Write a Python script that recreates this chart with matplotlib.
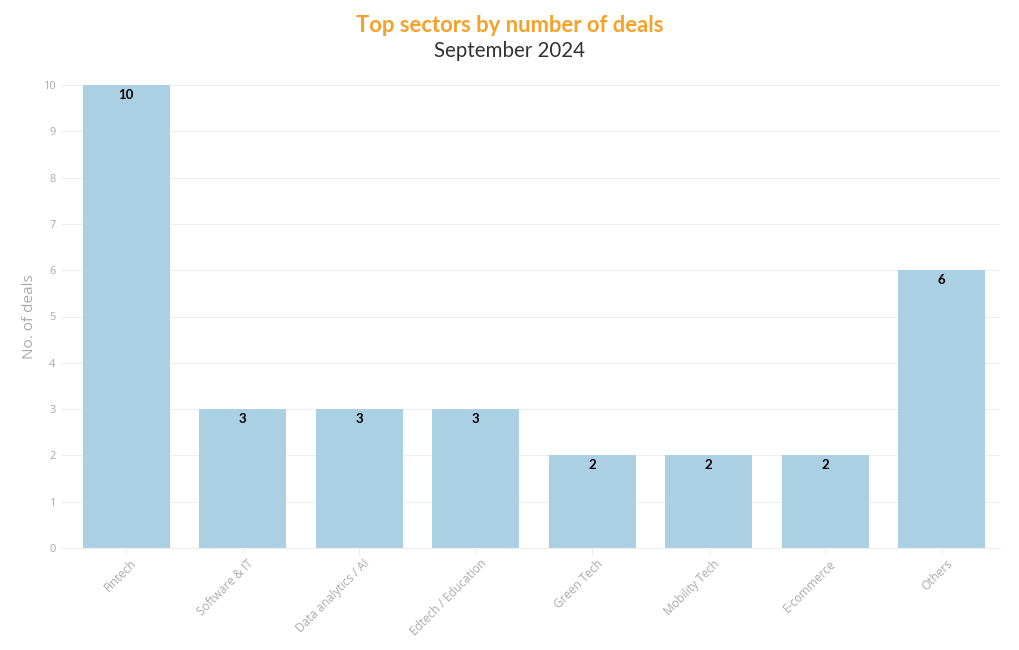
import matplotlib.pyplot as plt
import matplotlib.transforms as mtransforms
import numpy as np

sectors = ["Fintech", "Software & IT", "Data analytics / AI", "Edtech / Education",
           "Green Tech", "Mobility Tech", "E-commerce", "Others"]
deals = [10, 3, 3, 3, 2, 2, 2, 6]
y_ticks = list(range(0, 11))

plt.rcParams['font.family'] = ['Open Sans', 'DejaVu Sans']

fig = plt.figure(figsize=(10.2, 6.5), dpi=100)
ax = fig.add_axes([68 / 1020, 1 - 548 / 650, 932 / 1020, 463 / 650])

x = np.arange(len(sectors))
ax.bar(x, deals, width=0.75, color='#abd0e3', zorder=2)

# value labels just inside the top of each bar
for xi, v in zip(x, deals):
    ax.text(xi, v - 0.08, str(v), ha='center', va='top', fontsize=9.5,
            fontweight='bold', color='black', family=['Lato', 'DejaVu Sans'], zorder=3)

ax.set_xlim(-0.5, len(sectors) - 0.5)
ax.set_ylim(0, 10)
ax.set_yticks(y_ticks)
ax.set_xticks(x)
ax.set_xticklabels(sectors, rotation=45, ha='right', rotation_mode='anchor')
ax.tick_params(axis='x', colors='#eeeeee', labelcolor='#aaaaaa', labelsize=8.5, length=5, pad=3)
ax.tick_params(axis='y', colors='#eeeeee', labelcolor='#aaaaaa', labelsize=8, length=5, pad=4)
ax.grid(axis='y', color='#eeeeee', linewidth=0.8, zorder=0)
for side in ['top', 'right', 'left']:
    ax.spines[side].set_visible(False)
ax.spines['bottom'].set_color('#eeeeee')
ax.set_ylabel("No. of deals", color='#aaaaaa', fontsize=11)
ax.yaxis.set_label_coords(-(68 - 37) / 932, 0.5)

# nudge x tick labels a bit right so their ends sit near the ticks
offset = mtransforms.ScaledTranslation(4 / 100, 2 / 100, fig.dpi_scale_trans)
for lbl in ax.get_xticklabels():
    lbl.set_transform(lbl.get_transform() + offset)

fig.text(0.5, 1 - 25 / 650, "Top sectors by number of deals", ha='center', va='center',
         fontsize=15.8, fontweight='bold', color='#f7a128', family=['Lato', 'DejaVu Sans'])
fig.text(0.5, 1 - 51 / 650, "September 2024", ha='center', va='center',
         fontsize=14.8, color='#333333', family=['Lato', 'DejaVu Sans'])

plt.savefig('out.png', dpi=100)
